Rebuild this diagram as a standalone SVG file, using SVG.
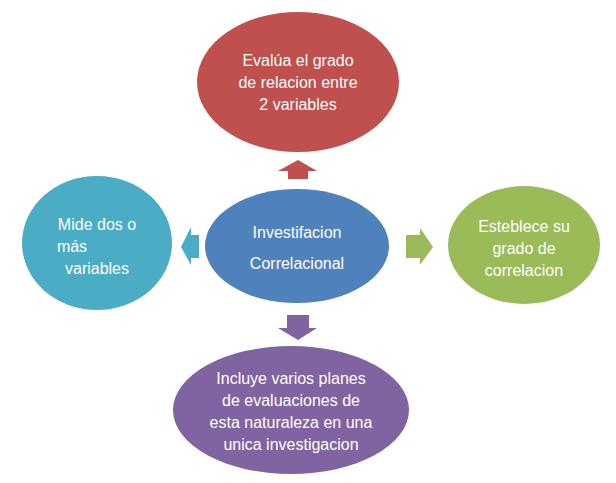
<svg xmlns="http://www.w3.org/2000/svg" width="616" height="483" viewBox="0 0 616 483">
<style>
text{font-family:"Liberation Sans",Arial,sans-serif;font-size:16px;fill:#fff;text-anchor:middle}
</style>
<rect width="616" height="483" fill="#fff"/>
<g id="connectors">
<polygon points="288,179 288,171 278,171 298,160 317,171 308,171 308,179" fill="#c0504d"/>
<polygon points="199,235 191,235 191,227 181,247 191,265 191,258 199,258" fill="#4bacc6"/>
<polygon points="406,235 420,235 420,228 433,247 420,265 420,258 406,258" fill="#9bbb59"/>
<polygon points="287,315 309,315 309,328 317,328 298,340 278,328 287,328" fill="#8064a2"/>
</g>
<g id="top"><ellipse cx="298" cy="82" rx="101" ry="70" fill="#c0504d"/>
<text x="298" y="66">Evalúa el grado</text><text x="298" y="88">de relacion entre</text><text x="298" y="110">2 variables</text></g>
<g id="center"><ellipse cx="297" cy="246" rx="92" ry="57" fill="#4f81bd"/>
<text x="297" y="238">Investifacion</text><text x="297" y="269">Correlacional</text></g>
<g id="left"><ellipse cx="97" cy="243" rx="75" ry="67" fill="#4bacc6"/>
<text x="97" y="230">Mide dos o</text><text x="72" y="252">más</text><text x="97" y="274">variables</text></g>
<g id="right"><ellipse cx="524" cy="245" rx="76" ry="59" fill="#9bbb59"/>
<text x="524" y="232">Esteblece su</text><text x="524" y="254">grado de</text><text x="524" y="276">correlacion</text></g>
<g id="bottom"><ellipse cx="291" cy="410" rx="118" ry="64" fill="#8064a2"/>
<text x="291" y="384">Incluye varios planes</text><text x="291" y="406">de evaluaciones de</text><text x="291" y="428">esta naturaleza en una</text><text x="291" y="450">unica investigacion</text></g>
</svg>
